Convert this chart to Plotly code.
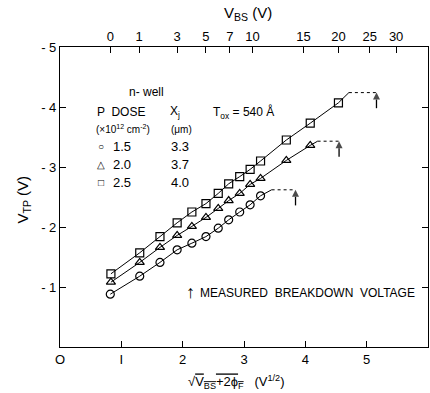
import plotly.graph_objects as go

# ---- data (x = sqrt(VBS+2phiF) in V^1/2, y = VTP in V) ----
x_sq = [0.83, 1.30, 1.63, 1.91, 2.15, 2.38, 2.58, 2.75, 2.93, 3.10, 3.27, 3.69, 4.08, 4.54]
y_sq = [-1.22, -1.57, -1.84, -2.07, -2.25, -2.39, -2.56, -2.72, -2.84, -2.96, -3.10, -3.45, -3.73, -4.07]

x_tri = [0.83, 1.30, 1.63, 1.91, 2.15, 2.38, 2.58, 2.75, 2.93, 3.10, 3.27, 3.69, 4.08]
y_tri = [-1.08, -1.41, -1.66, -1.86, -2.01, -2.16, -2.31, -2.44, -2.56, -2.71, -2.81, -3.11, -3.36]

x_cir = [0.82, 1.30, 1.63, 1.91, 2.15, 2.38, 2.58, 2.75, 2.93, 3.10, 3.27]
y_cir = [-0.88, -1.18, -1.41, -1.62, -1.73, -1.84, -1.98, -2.12, -2.25, -2.37, -2.52]

# saturation (plateau start) and measured breakdown positions
plat_x = {"sq": 4.71, "tri": 4.20, "cir": 3.45}
plat_y = {"sq": -4.24, "tri": -3.43, "cir": -2.62}
bd_x = {"sq": 5.16, "tri": 4.55, "cir": 3.84}

# top axis (VBS) tick labels and their positions on the sqrt scale
vbs_labels = ["0", "1", "3", "5", "7", "10", "15", "20", "25", "30"]
vbs_pos = [0.82, 1.29, 1.91, 2.38, 2.77, 3.14, 3.97, 4.54, 5.05, 5.48]

y_ticks = [-1, -2, -3, -4, -5]
y_ticktext = ["- 1", "- 2", "- 3", "- 4", "- 5"]
x_ticks = [0, 1, 2, 3, 4, 5, 6]
x_ticktext = ["O", "I", "2", "3", "4", "5", "6"]

legend_dose = ["1.5", "2.0", "2.5"]
legend_xj = ["3.3", "3.7", "4.0"]
legend_sym = ["○", "△", "□"]

# ---- figure geometry ----
W, H = 430, 393
L, R, T, B = 59.5, 428.0, 47.0, 347.0
ARROW_LEN = 0.26  # arrow shaft length in V (style)


def px(x, y):
    return (x - L) / (R - L), (B - y) / (B - T)


FONT = "Liberation Sans"
fig = go.Figure()

series = [
    ("sq", x_sq, y_sq, "square-open"),
    ("tri", x_tri, y_tri, "triangle-up-open"),
    ("cir", x_cir, y_cir, "circle-open"),
]
for key, xs, ys, sym in series:
    fig.add_trace(go.Scatter(
        x=xs + [plat_x[key]], y=ys + [plat_y[key]], mode="lines",
        line=dict(color="black", width=1), showlegend=False, hoverinfo="skip"))
    fig.add_trace(go.Scatter(
        x=[plat_x[key], bd_x[key]], y=[plat_y[key], plat_y[key]], mode="lines",
        line=dict(color="black", width=1, dash="dot"), showlegend=False, hoverinfo="skip"))
    fig.add_trace(go.Scatter(
        x=xs, y=ys, mode="markers",
        marker=dict(symbol=sym, size=8, color="black", line=dict(width=1.2, color="black")),
        showlegend=False, hoverinfo="skip"))
    # breakdown arrow: shaft + head
    fig.add_trace(go.Scatter(
        x=[bd_x[key], bd_x[key]], y=[plat_y[key] + ARROW_LEN, plat_y[key]],
        mode="lines+markers", line=dict(color="black", width=1.3),
        marker=dict(symbol=["line-ew", "arrow-up"], size=[0, 7], color="black",
                    line=dict(width=0)),
        showlegend=False, hoverinfo="skip"))

# dummy trace for top axis
fig.add_trace(go.Scatter(x=[0, 6], y=[0, 0], xaxis="x2", mode="markers",
                         marker=dict(opacity=0), showlegend=False, hoverinfo="skip"))

fig.update_layout(
    width=W, height=H,
    margin=dict(l=L, r=W - R, t=T, b=H - B),
    paper_bgcolor="white", plot_bgcolor="white",
    font=dict(family=FONT, size=13, color="black"),
    xaxis=dict(range=[0, 6], tickvals=x_ticks, ticktext=x_ticktext,
               ticks="inside", ticklen=6, tickcolor="black", showline=True,
               linecolor="black", linewidth=1.2, mirror=True, showgrid=False, zeroline=False),
    xaxis2=dict(range=[0, 6], overlaying="x", side="top", tickvals=vbs_pos,
                ticktext=vbs_labels, ticks="inside", ticklen=6, tickcolor="black",
                showline=True, linecolor="black", showgrid=False, zeroline=False),
    yaxis=dict(range=[0, -5], tickvals=y_ticks, ticktext=y_ticktext, ticks="inside",
               ticklen=6, tickcolor="black", showline=True, linecolor="black",
               linewidth=1.2, mirror="ticks", showgrid=False, zeroline=False),
)


def txt(text, x, y, size=12, xanchor="center", angle=0):
    xp, yp = px(x, y)
    fig.add_annotation(text=text, x=xp, y=yp, xref="paper", yref="paper", showarrow=False,
                       xanchor=xanchor, yanchor="middle", textangle=angle,
                       font=dict(family=FONT, size=size, color="black"))


txt("V<sub>BS</sub> (V)", 248, 13, 15)
txt("V<sub>TP</sub> (V)", 22, 200, 15, angle=-90)
txt("√<span style='text-decoration:overline'>V<sub>BS</sub>+2ϕ<sub>F</sub></span>   (V<sup>1/2</sup>)",
    236, 382, 13)
txt("n- well", 146, 92, 12)
txt("P  DOSE", 121, 112, 12)
txt("(×10<sup>12</sup> cm<sup>-2</sup>)", 123, 129, 10)
txt("X<sub>j</sub>", 175, 112, 12)
txt("(μm)", 181, 129, 10)
txt("T<sub>ox</sub> = 540 Å", 243, 113, 12)
rows_y = [146, 164, 182]
for sym, d, xj, ry in zip(legend_sym, legend_dose, legend_xj, rows_y):
    txt(sym, 101, ry, 10)
    txt(d, 122, ry, 13)
    txt(xj, 180, ry, 13)
txt("↑", 190, 292, 18)
txt("MEASURED  BREAKDOWN  VOLTAGE", 198, 293, 12, xanchor="left")

fig.write_html("out.html")
